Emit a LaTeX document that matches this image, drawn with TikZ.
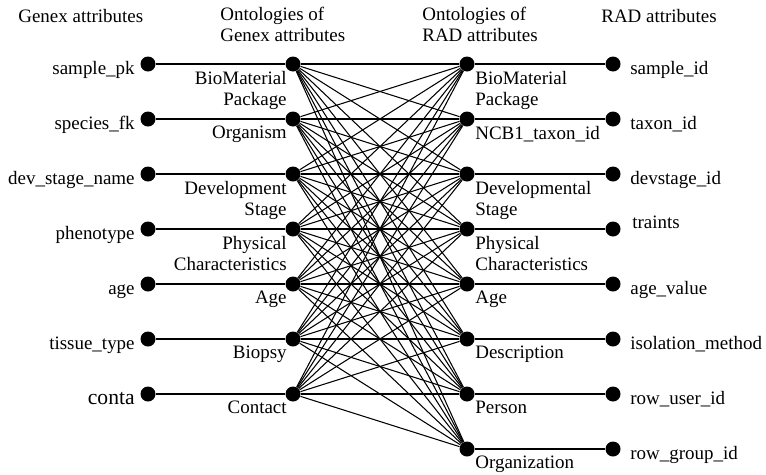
\documentclass[tikz,border=0pt]{standalone}
\usepackage{fontspec}
\setmainfont{Liberation Serif}
\usetikzlibrary{positioning}

\begin{document}
\begin{tikzpicture}
        [
            x=0.02cm, y=-0.02cm,
            dot/.style={circle, fill=black, inner sep=0pt, minimum size=0.3cm},
            link/.style={line width=0.6pt},
            attrlink/.style={line width=1pt},
            lbl/.style={inner sep=0pt, font=\rmfamily\fontsize{10.8}{12}\selectfont},
            ontlbl/.style={lbl, align=right},
            radlbl/.style={lbl, align=left},
        ]
        \useasboundingbox (0,0) rectangle (766,474);

        % column headers
        \node[lbl, anchor=north west] (genexhead) at (18,9) {Genex attributes};
        \node[radlbl, anchor=north west] (genexonthead) at (220,7) {Ontologies of\\Genex attributes};
        \node[radlbl, anchor=north west] (radonthead) at (422,7) {Ontologies of\\RAD attributes};
        \node[lbl, anchor=north west] (radhead) at (601,9) {RAD attributes};

        % Genex side
        \foreach \i/\txt in {1/sample\_pk, 2/species\_fk, 3/dev\_stage\_name,
                             4/phenotype, 5/age, 6/tissue\_type} {
            \node[dot] (ga\i) at (148, 9+55*\i) {};
            \node[lbl, anchor=base east] (gal\i) at ([shift={(-13,10)}]ga\i.center) {\txt};
        }
        \node[dot] (ga7) at (148, 394) {};
        \node[lbl, font=\rmfamily\fontsize{12.3}{14}\selectfont, anchor=base east] (gal7)
            at ([shift={(-13,10)}]ga7.center) {conta};

        \foreach \i/\txt in {1/{BioMaterial\\Package}, 2/Organism, 3/{Development\\Stage},
                             4/{Physical\\Characteristics}, 5/Age, 6/Biopsy, 7/Contact} {
            \node[dot] (go\i) at (293, 9+55*\i) {};
            \node[ontlbl, below left=0.14cm and 0.12cm of go\i.center] (gol\i) {\txt};
            \draw[attrlink] (ga\i) -- (go\i);
        }

        % RAD side
        \foreach \j/\txt in {1/{BioMaterial\\Package}, 2/NCB1\_taxon\_id, 3/{Developmental\\Stage},
                             4/{Physical\\Characteristics}, 5/Age, 6/Description, 7/Person,
                             8/Organization} {
            \node[dot] (ro\j) at (467, 9+55*\j) {};
            \node[radlbl, below right=0.14cm and 0.16cm of ro\j.center] (rol\j) {\txt};
        }

        \foreach \j/\txt in {1/sample\_id, 2/taxon\_id, 3/devstage\_id, 5/age\_value,
                             6/isolation\_method, 7/row\_user\_id, 8/row\_group\_id} {
            \node[dot] (ra\j) at (613, 9+55*\j) {};
            \node[lbl, anchor=base west] (ral\j) at ([shift={(17,10)}]ra\j.center) {\txt};
            \draw[attrlink] (ro\j) -- (ra\j);
        }
        \node[dot] (ra4) at (613, 229) {};
        \node[lbl, anchor=base west] (ral4) at ([shift={(19,-1)}]ra4.center) {traints};
        \draw[attrlink] (ro4) -- (ra4);

        % every Genex ontology to every RAD ontology
        \foreach \i in {1,...,7}
            \foreach \j in {1,...,8}
                \draw[link] (go\i) -- (ro\j);
    \end{tikzpicture}
\end{document}
